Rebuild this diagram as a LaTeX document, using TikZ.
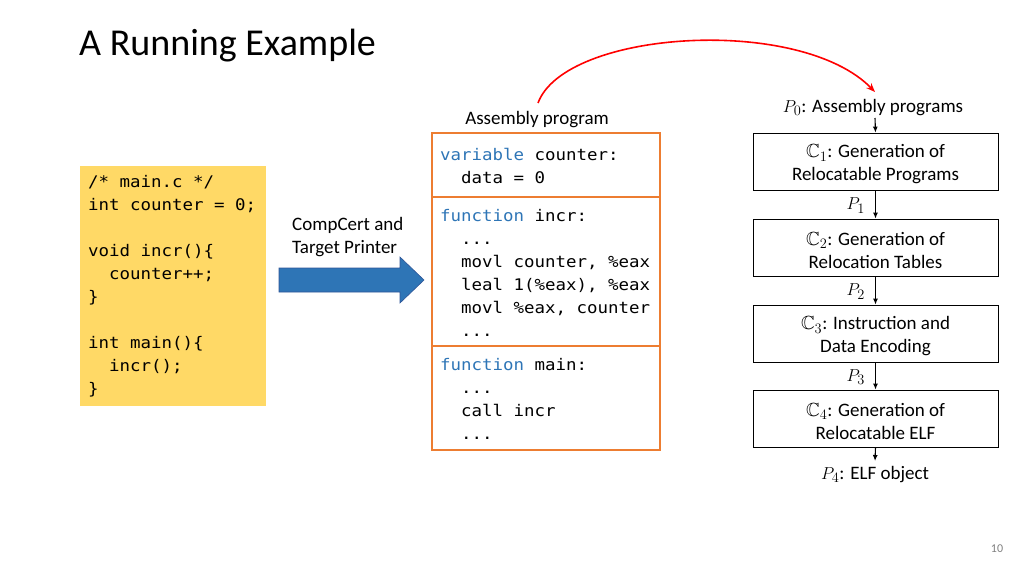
\documentclass[tikz,border=0pt]{standalone}
\usepackage{amssymb}
\usepackage{fontspec}
\setmainfont{Carlito}
\newfontfamily\codefont[FakeStretch=1.09]{DejaVu Sans Mono}
\usetikzlibrary{arrows.meta}
\definecolor{codeyellow}{HTML}{FFD966}
\definecolor{asmorange}{HTML}{ED7D31}
\definecolor{kwblue}{HTML}{2E75B6}
\definecolor{arrowblue}{HTML}{2E75B6}
\definecolor{arrowedge}{HTML}{2F5597}
\begin{document}
\begin{tikzpicture}[x=1pt,y=-1pt,
  body/.style={font=\fontsize{19}{22}\selectfont, inner sep=0pt},
  code/.style={font=\codefont\fontsize{16}{20}\selectfont, inner sep=0pt, anchor=base west},
  stage/.style={draw, line width=0.8pt, minimum width=245pt, minimum height=57pt, inner sep=0pt},
  stagetext/.style={align=center, font=\fontsize{19}{23}\selectfont, inner sep=0pt, yshift=-3pt},
  asmbox/.style={draw=asmorange, line width=1.6pt, minimum width=228pt, inner sep=0pt},
  flow/.style={-{Latex[length=6pt,width=5pt]}, line width=1.1pt}]
\useasboundingbox (0,0) rectangle (1024,576);

% title
\node[font=\fontsize{38}{40}\selectfont, anchor=base west, inner sep=0pt] (title) at (79,55) {A Running Example};

% C source box
\node[fill=codeyellow, minimum width=186pt, minimum height=240pt, inner sep=0pt] (src) at (173,286) {};
\node[code] (s1) at (88,187) {/* main.c */};
\node[code] (s2) at (88,210) {int counter = 0;};
\node[code] (s3) at (88,256) {void incr()\{};
\node[code] (s4) at (88,279) {\ \ counter++;};
\node[code] (s5) at (88,302) {\}};
\node[code] (s6) at (88,348) {int main()\{};
\node[code] (s7) at (88,371) {\ \ incr();};
\node[code] (s8) at (88,394) {\}};

% compile arrow
\node[body, anchor=base west] (cc1) at (292,230) {CompCert and};
\node[body, anchor=base west] (cc2) at (292,253) {Target Printer};
\coordinate (ar0) at (279,280);
\coordinate (ar1) at (424,280);
\fill[arrowblue, draw=arrowedge, line width=0.6pt]
  (279,268) -- (400,268) -- (400,257) -- (424,280) -- (400,303) -- (400,292) -- (279,292) -- cycle;

% assembly program
\node[body, anchor=base] (asmlbl) at (537,124) {Assembly program};
\node[asmbox, minimum height=64pt] (bv) at (546,165) {};
\node[asmbox, minimum height=149pt] (bf1) at (546,271.5) {};
\node[asmbox, minimum height=104pt] (bf2) at (546,398) {};
\node[code] (a1) at (440,160) {\textcolor{kwblue}{variable} counter:};
\node[code] (a2) at (461,183) {data = 0};
\node[code] (a3) at (440,221) {\textcolor{kwblue}{function} incr:};
\node[code] (a4) at (461,244) {...};
\node[code] (a5) at (461,267) {movl counter, \%eax};
\node[code] (a6) at (461,290) {leal 1(\%eax), \%eax};
\node[code] (a7) at (461,313) {movl \%eax, counter};
\node[code] (a8) at (461,336) {...};
\node[code] (a9) at (440,370) {\textcolor{kwblue}{function} main:};
\node[code] (a10) at (461,393) {...};
\node[code] (a11) at (461,416) {call incr};
\node[code] (a12) at (461,439) {...};

% pipeline
\node[body, anchor=base] (p0) at (873,112) {$P_0$: Assembly programs};
\node[stage] (c1) at (875.5,161.5) {};
\node[stage] (c2) at (875.5,247.5) {};
\node[stage] (c3) at (875.5,333.5) {};
\node[stage] (c4) at (875.5,418.5) {};
\node[stagetext] (c1t) at (c1) {$\mathbb{C}_1$: Generation of\\Relocatable Programs};
\node[stagetext] (c2t) at (c2) {$\mathbb{C}_2$: Generation of\\Relocation Tables};
\node[stagetext] (c3t) at (c3) {$\mathbb{C}_3$: Instruction and\\Data Encoding};
\node[stagetext] (c4t) at (c4) {$\mathbb{C}_4$: Generation of\\Relocatable ELF};
\node[body, anchor=base] (p4) at (875,479) {$P_4$: ELF object};

\draw[flow] (875,118) -- (c1.north);
\draw[flow] (c1.south) -- node[body, left=10pt, yshift=-1pt] (l1) {$P_1$} (c2.north);
\draw[flow] (c2.south) -- node[body, left=10pt, yshift=-1pt] (l2) {$P_2$} (c3.north);
\draw[flow] (c3.south) -- node[body, left=10pt, yshift=-1pt] (l3) {$P_3$} (c4.north);
\draw[flow] (c4.south) -- (875,461);

% red curved arrow
\coordinate (rs) at (538,103);
\coordinate (re) at (875,92);
\draw[red, line width=1.6pt, -{Stealth[length=9pt,width=7pt]}] (rs) .. controls (565,30) and (800,15) .. (re);

% page number
\node[font=\fontsize{12}{13}\selectfont, text=gray, inner sep=0pt] (pg) at (997,549) {10};
\end{tikzpicture}
\end{document}
